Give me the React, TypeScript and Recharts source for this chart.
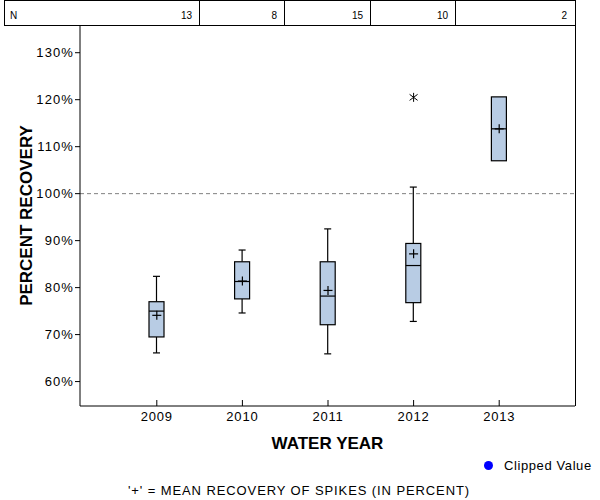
import { ComposedChart, Bar, Line, XAxis, YAxis, ReferenceLine } from "recharts";

const YEARS = ["2009", "2010", "2011", "2012", "2013"];
const N_COUNTS = [13, 8, 15, 10, 2];
const WHISKER_LOW = [66.1, 74.6, 65.9, 72.8, null];
const Q1 = [69.5, 77.6, 72.1, 76.8, 107.0];
const MEDIAN = [75.0, 81.3, 78.2, 84.7, 113.8];
const Q3 = [77.0, 85.5, 85.5, 89.4, 120.6];
const WHISKER_HIGH = [82.4, 88.0, 92.5, 101.4, null];
const MEAN = [74.1, 81.4, 79.4, 87.2, 113.8];
const OUTLIER = [null, null, null, 120.5, null];
const Y_TICKS = [60, 70, 80, 90, 100, 110, 120, 130];

const FONT = "'Liberation Sans', Arial, sans-serif";
const BOX_FILL = "#b8cce4";

const data = YEARS.map((year, i) => ({
  year,
  low: WHISKER_LOW[i] ?? Q1[i],
  high: WHISKER_HIGH[i] ?? Q3[i],
  hasWhisker: WHISKER_LOW[i] != null,
  q1: Q1[i],
  median: MEDIAN[i],
  q3: Q3[i],
  mean: MEAN[i],
  outlier: OUTLIER[i],
}));

// box drawn inside the whisker range bar, positions scaled from the bar's own pixel extent
const BoxShape = (props: any) => {
  const { x, y, width, height, payload } = props;
  if (x == null || y == null) return <g />;
  const top = Math.min(y, y + height);
  const h = Math.abs(height);
  const ppu = h / (payload.high - payload.low);
  const py = (v: number) => top + (payload.high - v) * ppu;
  const cx = x + width / 2;
  const cap = 3.5;
  return (
    <g stroke="#000" strokeWidth={1.2}>
      {payload.hasWhisker && (
        <>
          <line x1={cx} x2={cx} y1={py(payload.high)} y2={py(payload.q3)} />
          <line x1={cx} x2={cx} y1={py(payload.q1)} y2={py(payload.low)} />
          <line x1={cx - cap} x2={cx + cap} y1={py(payload.high)} y2={py(payload.high)} />
          <line x1={cx - cap} x2={cx + cap} y1={py(payload.low)} y2={py(payload.low)} />
        </>
      )}
      <rect x={x} y={py(payload.q3)} width={width} height={py(payload.q1) - py(payload.q3)} fill={BOX_FILL} />
      <line x1={x} x2={x + width} y1={py(payload.median)} y2={py(payload.median)} />
    </g>
  );
};

const PlusDot = (props: any) => {
  const { cx, cy, index } = props;
  if (cx == null || cy == null) return <g key={`m${index}`} />;
  return (
    <g key={`m${index}`} stroke="#000" strokeWidth={1.2}>
      <line x1={cx - 4.5} x2={cx + 4.5} y1={cy} y2={cy} />
      <line x1={cx} x2={cx} y1={cy - 4.5} y2={cy + 4.5} />
    </g>
  );
};

const StarDot = (props: any) => {
  const { cx, cy, index, payload } = props;
  if (cx == null || cy == null || payload.outlier == null) return <g key={`o${index}`} />;
  return (
    <g key={`o${index}`} stroke="#000" strokeWidth={1}>
      <line x1={cx} x2={cx} y1={cy - 4.5} y2={cy + 4.5} />
      <line x1={cx - 4} x2={cx + 4} y1={cy - 3} y2={cy + 3} />
      <line x1={cx - 4} x2={cx + 4} y1={cy + 3} y2={cy - 3} />
    </g>
  );
};

const XTick = (props: any) => {
  const { x, y, payload } = props;
  return (
    <g>
      <line x1={x} x2={x} y1={y - 6} y2={y} stroke="#000" />
      <text x={x} y={y + 15} textAnchor="middle" fontSize={13} letterSpacing={0.8} fontFamily={FONT} fill="#000">
        {payload.value}
      </text>
    </g>
  );
};

const YTick = (props: any) => {
  const { x, y, payload } = props;
  return (
    <text x={x} y={y} textAnchor="end" dominantBaseline="central" fontSize={13} letterSpacing={1.1} fontFamily={FONT} fill="#000">
      {`${payload.value}%`}
    </text>
  );
};

const YTitle = (props: any) => {
  const vb = props.viewBox;
  const cx = vb.x + 26;
  const cy = vb.y + vb.height / 2;
  return (
    <text x={cx} y={cy} transform={`rotate(-90 ${cx} ${cy})`} textAnchor="middle" dominantBaseline="central" fontSize={17} fontWeight="bold" fontFamily={FONT} fill="#000">
      PERCENT RECOVERY
    </text>
  );
};

const XTitle = (props: any) => {
  const vb = props.viewBox;
  const cx = vb.x + vb.width / 2;
  return (
    <text x={cx} y={vb.y + 43} textAnchor="middle" fontSize={17} fontWeight="bold" fontFamily={FONT} fill="#000">
      WATER YEAR
    </text>
  );
};

const CELL_WIDTHS = [194, 85, 86, 85, 119];

export default function App() {
  return (
    <div style={{ position: "absolute", left: 0, top: 0, width: 600, height: 500, background: "#fff", fontFamily: FONT }}>
      <div
        style={{
          position: "absolute", left: 4, top: 0, width: 572, height: 26, border: "1px solid #000",
          boxSizing: "border-box", display: "flex", fontSize: 10, color: "#000",
        }}
      >
        {N_COUNTS.map((n, i) => (
          <div
            key={i}
            style={{
              width: CELL_WIDTHS[i], boxSizing: "border-box", borderLeft: i ? "1px solid #000" : "none",
              display: "flex", justifyContent: "space-between", alignItems: "center",
              padding: "4px 7px 0 5px",
            }}
          >
            <span>{i === 0 ? "N" : ""}</span>
            <span>{n}</span>
          </div>
        ))}
      </div>
      <div style={{ position: "absolute", left: 80, top: 25, width: 495, height: 381, borderRight: "1px solid #000" }} />
      <div style={{ position: "absolute", left: 0, top: 0 }}>
        <ComposedChart width={600} height={500} data={data} margin={{ top: 25, right: 25, bottom: 64, left: 0 }}>
          <XAxis
            dataKey="year"
            padding={{ left: 34, right: 33 }}
            tickLine={false}
            tickSize={0}
            tickMargin={0}
            tick={<XTick />}
            axisLine={{ stroke: "#000" }}
            height={30}
            label={<XTitle />}
          />
          <YAxis
            type="number"
            domain={[54.8, 135.9]}
            ticks={Y_TICKS}
            allowDataOverflow
            tick={<YTick />}
            tickSize={5}
            tickMargin={1}
            tickLine={{ stroke: "#000" }}
            axisLine={{ stroke: "#000" }}
            width={80}
            label={<YTitle />}
          />
          <ReferenceLine y={100} stroke="#808080" strokeDasharray="4 3" />
          <Bar dataKey={(d: any) => [d.low, d.high]} barSize={15} fill="none" shape={<BoxShape />} isAnimationActive={false} />
          <Line dataKey="mean" stroke="none" dot={PlusDot} activeDot={false} isAnimationActive={false} />
          <Line dataKey="outlier" stroke="none" dot={StarDot} activeDot={false} isAnimationActive={false} />
        </ComposedChart>
      </div>
      <div style={{ position: "absolute", left: 483.5, top: 460.5, width: 9, height: 9, borderRadius: "50%", background: "#0000ff" }} />
      <div style={{ position: "absolute", left: 504, top: 458, fontSize: 13, letterSpacing: 0.6, color: "#000" }}>Clipped Value</div>
      <div style={{ position: "absolute", left: 0, width: 598, top: 483, fontSize: 13, letterSpacing: 0.9, color: "#000", textAlign: "center" }}>
        '+' = MEAN RECOVERY OF SPIKES (IN PERCENT)
      </div>
    </div>
  );
}
